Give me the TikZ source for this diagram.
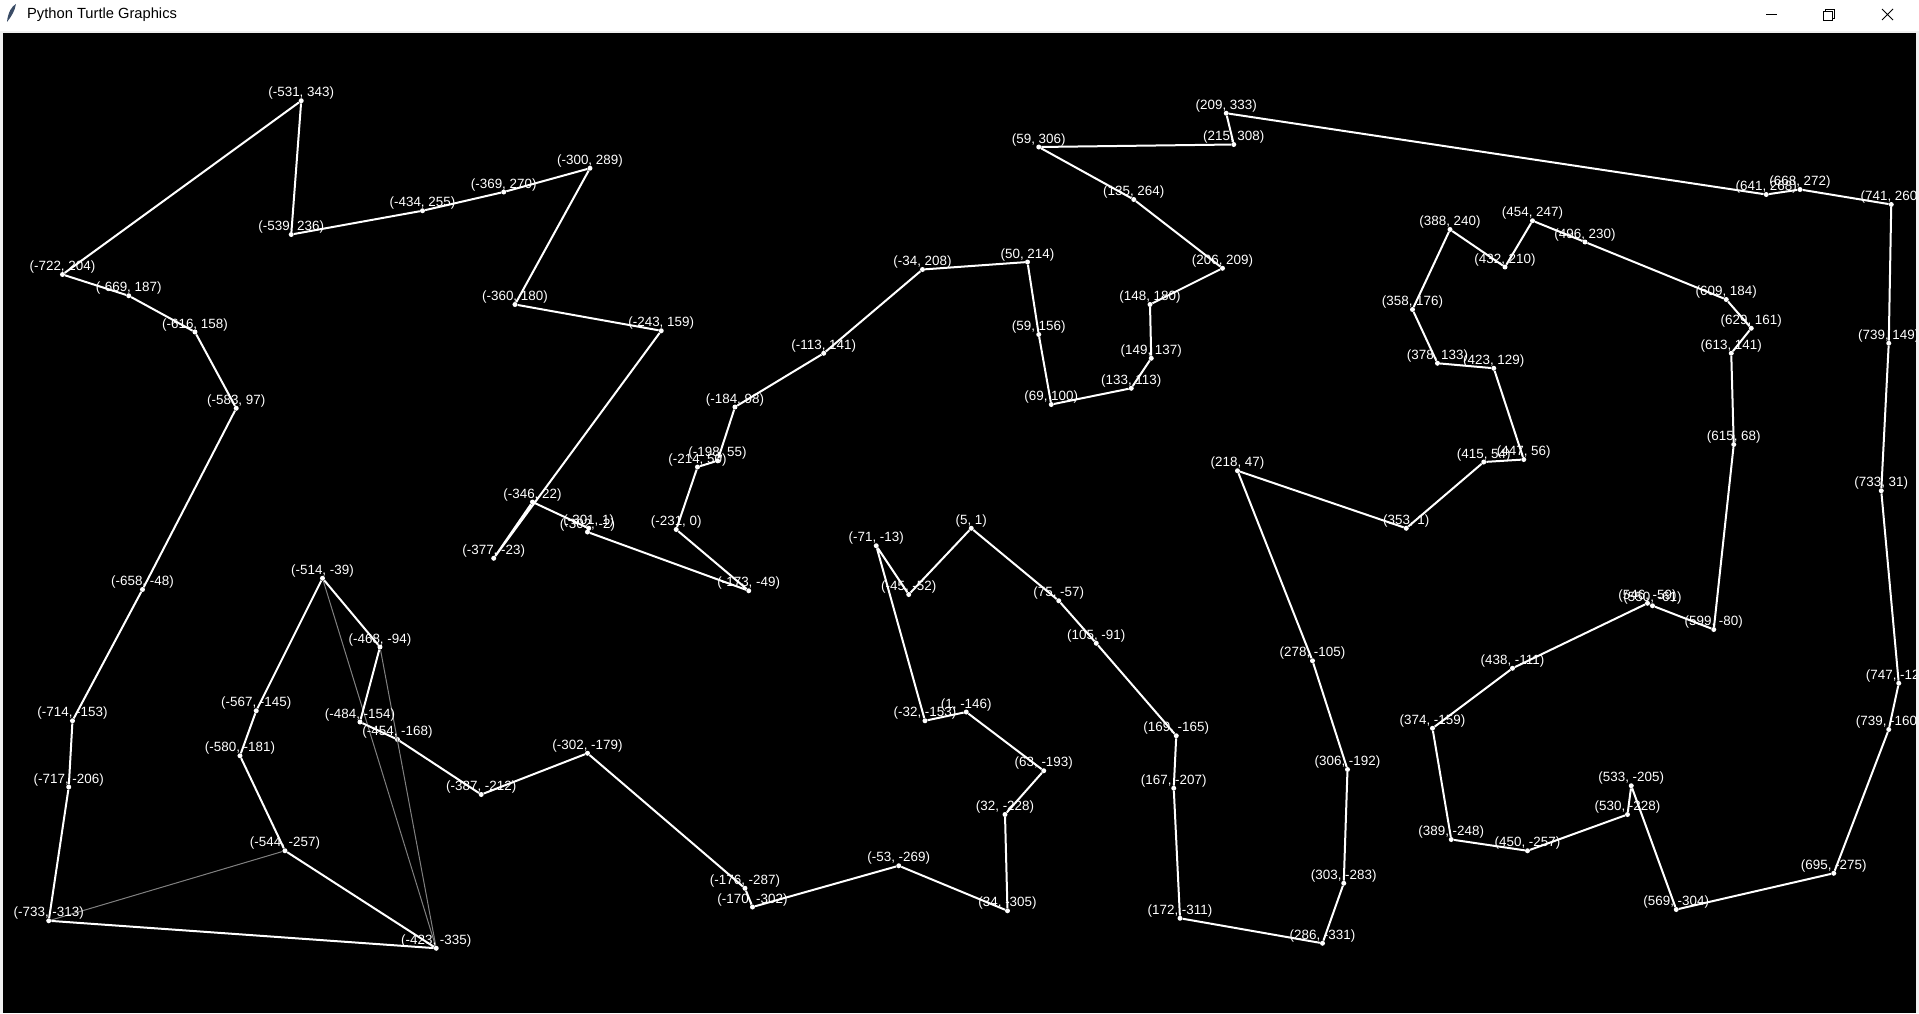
\documentclass[tikz,border=0pt]{standalone}
\usepackage{fontspec}
\setmainfont{Liberation Sans}
\definecolor{framegray}{RGB}{240,240,240}
\definecolor{ghostgray}{RGB}{128,128,128}
\definecolor{feather}{RGB}{58,76,102}
\tikzset{
  city/.style={circle, draw=none, fill=white, inner sep=0, minimum size=5pt},
  lbl/.style={anchor=south, inner sep=0, yshift=1pt, text=white,
    font=\fontsize{13.4}{15}\selectfont},
  tour/.style={line width=2pt, color=white},
  ghost/.style={line width=1pt, color=ghostgray},
  titletext/.style={anchor=west, inner sep=0, text=black,
    font=\fontsize{14.7}{17}\selectfont},
  winbtn/.style={line width=1pt, color=black}
}
\begin{document}
\begin{tikzpicture}[x=1.25pt, y=1.25pt]
\useasboundingbox (-772,-386.8) rectangle (763.2,423.6);
\fill[framegray] (-772,-386.8) rectangle (763.2,423.6);
\fill[white] (-772,423.6) rectangle (763.2,398.8);
\fill[black] (-769.6,-386.8) rectangle (760.8,397.2);

% title bar
\begin{scope}[shift={(-772,423.6)}, x=1pt, y=-1pt]
\fill[feather] (7,22) .. controls (8,12) and (12,6) .. (16,4) .. controls (15,11) and (11,17) .. (7,22);
\node[titletext] (title) at (27,15) {Python Turtle Graphics};
\draw[winbtn] (1766,15) -- (1777,15);
\draw[winbtn] (1823,12) rectangle (1832,21);
\draw[winbtn] (1825.5,12) -- (1825.5,9.5) -- (1834.5,9.5) -- (1834.5,18.5) -- (1832,18.5);
\draw[winbtn] (1882,9) -- (1893,20) (1882,20) -- (1893,9);
\end{scope}

\begin{scope}
\clip (-769.6,-386.8) rectangle (760.8,397.2);

\node[city] (c1) at (-423,-335) {};
\node[city] (c2) at (-733,-313) {};
\node[city] (c3) at (-717,-206) {};
\node[city] (c4) at (-714,-153) {};
\node[city] (c5) at (-658,-48) {};
\node[city] (c6) at (-583,97) {};
\node[city] (c7) at (-616,158) {};
\node[city] (c8) at (-669,187) {};
\node[city] (c9) at (-722,204) {};
\node[city] (c10) at (-531,343) {};
\node[city] (c11) at (-539,236) {};
\node[city] (c12) at (-434,255) {};
\node[city] (c13) at (-369,270) {};
\node[city] (c14) at (-300,289) {};
\node[city] (c15) at (-360,180) {};
\node[city] (c16) at (-243,159) {};
\node[city] (c17) at (-377,-23) {};
\node[city] (c18) at (-346,22) {};
\node[city] (c19) at (-301,1) {};
\node[city] (c20) at (-302,-2) {};
\node[city] (c21) at (-173,-49) {};
\node[city] (c22) at (-231,0) {};
\node[city] (c23) at (-214,50) {};
\node[city] (c24) at (-198,55) {};
\node[city] (c25) at (-184,98) {};
\node[city] (c26) at (-113,141) {};
\node[city] (c27) at (-34,208) {};
\node[city] (c28) at (50,214) {};
\node[city] (c29) at (59,156) {};
\node[city] (c30) at (69,100) {};
\node[city] (c31) at (133,113) {};
\node[city] (c32) at (149,137) {};
\node[city] (c33) at (148,180) {};
\node[city] (c34) at (206,209) {};
\node[city] (c35) at (135,264) {};
\node[city] (c36) at (59,306) {};
\node[city] (c37) at (215,308) {};
\node[city] (c38) at (209,333) {};
\node[city] (c39) at (641,268) {};
\node[city] (c40) at (668,272) {};
\node[city] (c41) at (741,260) {};
\node[city] (c42) at (739,149) {};
\node[city] (c43) at (733,31) {};
\node[city] (c44) at (747,-123) {};
\node[city] (c45) at (739,-160) {};
\node[city] (c46) at (695,-275) {};
\node[city] (c47) at (569,-304) {};
\node[city] (c48) at (533,-205) {};
\node[city] (c49) at (530,-228) {};
\node[city] (c50) at (450,-257) {};
\node[city] (c51) at (389,-248) {};
\node[city] (c52) at (374,-159) {};
\node[city] (c53) at (438,-111) {};
\node[city] (c54) at (546,-59) {};
\node[city] (c55) at (550,-61) {};
\node[city] (c56) at (599,-80) {};
\node[city] (c57) at (615,68) {};
\node[city] (c58) at (613,141) {};
\node[city] (c59) at (629,161) {};
\node[city] (c60) at (609,184) {};
\node[city] (c61) at (496,230) {};
\node[city] (c62) at (454,247) {};
\node[city] (c63) at (432,210) {};
\node[city] (c64) at (388,240) {};
\node[city] (c65) at (358,176) {};
\node[city] (c66) at (378,133) {};
\node[city] (c67) at (423,129) {};
\node[city] (c68) at (447,56) {};
\node[city] (c69) at (415,54) {};
\node[city] (c70) at (353,1) {};
\node[city] (c71) at (218,47) {};
\node[city] (c72) at (278,-105) {};
\node[city] (c73) at (306,-192) {};
\node[city] (c74) at (303,-283) {};
\node[city] (c75) at (286,-331) {};
\node[city] (c76) at (172,-311) {};
\node[city] (c77) at (167,-207) {};
\node[city] (c78) at (169,-165) {};
\node[city] (c79) at (105,-91) {};
\node[city] (c80) at (75,-57) {};
\node[city] (c81) at (5,1) {};
\node[city] (c82) at (-45,-52) {};
\node[city] (c83) at (-71,-13) {};
\node[city] (c84) at (-32,-153) {};
\node[city] (c85) at (1,-146) {};
\node[city] (c86) at (63,-193) {};
\node[city] (c87) at (32,-228) {};
\node[city] (c88) at (34,-305) {};
\node[city] (c89) at (-53,-269) {};
\node[city] (c90) at (-170,-302) {};
\node[city] (c91) at (-176,-287) {};
\node[city] (c92) at (-302,-179) {};
\node[city] (c93) at (-387,-212) {};
\node[city] (c94) at (-454,-168) {};
\node[city] (c95) at (-484,-154) {};
\node[city] (c96) at (-468,-94) {};
\node[city] (c97) at (-514,-39) {};
\node[city] (c98) at (-567,-145) {};
\node[city] (c99) at (-580,-181) {};
\node[city] (c100) at (-544,-257) {};

% earlier edges
\draw[ghost] (c97) -- (c1);
\draw[ghost] (c96) -- (c1);
\draw[ghost] (c100) -- (c2);

\node[lbl] (l1) at (c1) {(-423, -335)};
\node[lbl] (l2) at (c2) {(-733, -313)};
\node[lbl] (l3) at (c3) {(-717, -206)};
\node[lbl] (l4) at (c4) {(-714, -153)};
\node[lbl] (l5) at (c5) {(-658, -48)};
\node[lbl] (l6) at (c6) {(-583, 97)};
\node[lbl] (l7) at (c7) {(-616, 158)};
\node[lbl] (l8) at (c8) {(-669, 187)};
\node[lbl] (l9) at (c9) {(-722, 204)};
\node[lbl] (l10) at (c10) {(-531, 343)};
\node[lbl] (l11) at (c11) {(-539, 236)};
\node[lbl] (l12) at (c12) {(-434, 255)};
\node[lbl] (l13) at (c13) {(-369, 270)};
\node[lbl] (l14) at (c14) {(-300, 289)};
\node[lbl] (l15) at (c15) {(-360, 180)};
\node[lbl] (l16) at (c16) {(-243, 159)};
\node[lbl] (l17) at (c17) {(-377, -23)};
\node[lbl] (l18) at (c18) {(-346, 22)};
\node[lbl] (l19) at (c19) {(-301, 1)};
\node[lbl] (l20) at (c20) {(-302, -2)};
\node[lbl] (l21) at (c21) {(-173, -49)};
\node[lbl] (l22) at (c22) {(-231, 0)};
\node[lbl] (l23) at (c23) {(-214, 50)};
\node[lbl] (l24) at (c24) {(-198, 55)};
\node[lbl] (l25) at (c25) {(-184, 98)};
\node[lbl] (l26) at (c26) {(-113, 141)};
\node[lbl] (l27) at (c27) {(-34, 208)};
\node[lbl] (l28) at (c28) {(50, 214)};
\node[lbl] (l29) at (c29) {(59, 156)};
\node[lbl] (l30) at (c30) {(69, 100)};
\node[lbl] (l31) at (c31) {(133, 113)};
\node[lbl] (l32) at (c32) {(149, 137)};
\node[lbl] (l33) at (c33) {(148, 180)};
\node[lbl] (l34) at (c34) {(206, 209)};
\node[lbl] (l35) at (c35) {(135, 264)};
\node[lbl] (l36) at (c36) {(59, 306)};
\node[lbl] (l37) at (c37) {(215, 308)};
\node[lbl] (l38) at (c38) {(209, 333)};
\node[lbl] (l39) at (c39) {(641, 268)};
\node[lbl] (l40) at (c40) {(668, 272)};
\node[lbl] (l41) at (c41) {(741, 260)};
\node[lbl] (l42) at (c42) {(739, 149)};
\node[lbl] (l43) at (c43) {(733, 31)};
\node[lbl] (l44) at (c44) {(747, -123)};
\node[lbl] (l45) at (c45) {(739, -160)};
\node[lbl] (l46) at (c46) {(695, -275)};
\node[lbl] (l47) at (c47) {(569, -304)};
\node[lbl] (l48) at (c48) {(533, -205)};
\node[lbl] (l49) at (c49) {(530, -228)};
\node[lbl] (l50) at (c50) {(450, -257)};
\node[lbl] (l51) at (c51) {(389, -248)};
\node[lbl] (l52) at (c52) {(374, -159)};
\node[lbl] (l53) at (c53) {(438, -111)};
\node[lbl] (l54) at (c54) {(546, -59)};
\node[lbl] (l55) at (c55) {(550, -61)};
\node[lbl] (l56) at (c56) {(599, -80)};
\node[lbl] (l57) at (c57) {(615, 68)};
\node[lbl] (l58) at (c58) {(613, 141)};
\node[lbl] (l59) at (c59) {(629, 161)};
\node[lbl] (l60) at (c60) {(609, 184)};
\node[lbl] (l61) at (c61) {(496, 230)};
\node[lbl] (l62) at (c62) {(454, 247)};
\node[lbl] (l63) at (c63) {(432, 210)};
\node[lbl] (l64) at (c64) {(388, 240)};
\node[lbl] (l65) at (c65) {(358, 176)};
\node[lbl] (l66) at (c66) {(378, 133)};
\node[lbl] (l67) at (c67) {(423, 129)};
\node[lbl] (l68) at (c68) {(447, 56)};
\node[lbl] (l69) at (c69) {(415, 54)};
\node[lbl] (l70) at (c70) {(353, 1)};
\node[lbl] (l71) at (c71) {(218, 47)};
\node[lbl] (l72) at (c72) {(278, -105)};
\node[lbl] (l73) at (c73) {(306, -192)};
\node[lbl] (l74) at (c74) {(303, -283)};
\node[lbl] (l75) at (c75) {(286, -331)};
\node[lbl] (l76) at (c76) {(172, -311)};
\node[lbl] (l77) at (c77) {(167, -207)};
\node[lbl] (l78) at (c78) {(169, -165)};
\node[lbl] (l79) at (c79) {(105, -91)};
\node[lbl] (l80) at (c80) {(75, -57)};
\node[lbl] (l81) at (c81) {(5, 1)};
\node[lbl] (l82) at (c82) {(-45, -52)};
\node[lbl] (l83) at (c83) {(-71, -13)};
\node[lbl] (l84) at (c84) {(-32, -153)};
\node[lbl] (l85) at (c85) {(1, -146)};
\node[lbl] (l86) at (c86) {(63, -193)};
\node[lbl] (l87) at (c87) {(32, -228)};
\node[lbl] (l88) at (c88) {(34, -305)};
\node[lbl] (l89) at (c89) {(-53, -269)};
\node[lbl] (l90) at (c90) {(-170, -302)};
\node[lbl] (l91) at (c91) {(-176, -287)};
\node[lbl] (l92) at (c92) {(-302, -179)};
\node[lbl] (l93) at (c93) {(-387, -212)};
\node[lbl] (l94) at (c94) {(-454, -168)};
\node[lbl] (l95) at (c95) {(-484, -154)};
\node[lbl] (l96) at (c96) {(-468, -94)};
\node[lbl] (l97) at (c97) {(-514, -39)};
\node[lbl] (l98) at (c98) {(-567, -145)};
\node[lbl] (l99) at (c99) {(-580, -181)};
\node[lbl] (l100) at (c100) {(-544, -257)};

% the tour
\draw[tour] (c1) -- (c2) -- (c3) -- (c4) -- (c5) -- (c6) -- (c7) -- (c8) -- (c9) -- (c10)
  -- (c11) -- (c12) -- (c13) -- (c14) -- (c15) -- (c16) -- (c17) -- (c18) -- (c19) -- (c20)
  -- (c21) -- (c22) -- (c23) -- (c24) -- (c25) -- (c26) -- (c27) -- (c28) -- (c29) -- (c30)
  -- (c31) -- (c32) -- (c33) -- (c34) -- (c35) -- (c36) -- (c37) -- (c38) -- (c39) -- (c40)
  -- (c41) -- (c42) -- (c43) -- (c44) -- (c45) -- (c46) -- (c47) -- (c48) -- (c49) -- (c50)
  -- (c51) -- (c52) -- (c53) -- (c54) -- (c55) -- (c56) -- (c57) -- (c58) -- (c59) -- (c60)
  -- (c61) -- (c62) -- (c63) -- (c64) -- (c65) -- (c66) -- (c67) -- (c68) -- (c69) -- (c70)
  -- (c71) -- (c72) -- (c73) -- (c74) -- (c75) -- (c76) -- (c77) -- (c78) -- (c79) -- (c80)
  -- (c81) -- (c82) -- (c83) -- (c84) -- (c85) -- (c86) -- (c87) -- (c88) -- (c89) -- (c90)
  -- (c91) -- (c92) -- (c93) -- (c94) -- (c95) -- (c96) -- (c97) -- (c98) -- (c99) -- (c100)
  -- (c1);
\end{scope}

\end{tikzpicture}
\end{document}
